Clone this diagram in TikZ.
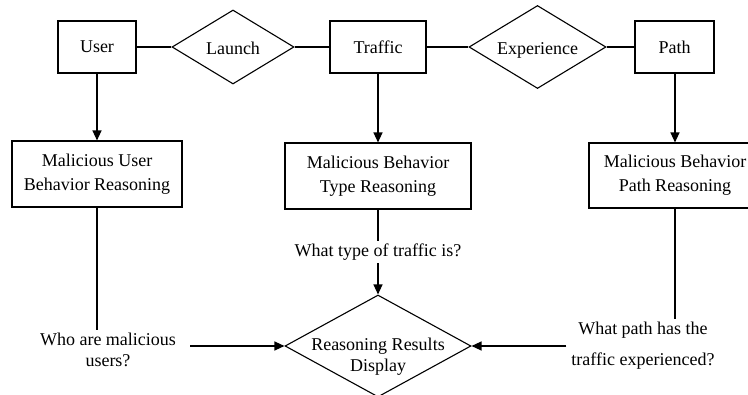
\documentclass[tikz,border=0pt]{standalone}
\usepackage{fontspec}
\setmainfont{Liberation Serif}
\newfontfamily\diagfont{Liberation Serif}
\usetikzlibrary{shapes.geometric,arrows.meta}
\begin{document}
\begin{tikzpicture}[x=1pt,y=-1pt,
  every node/.style={font=\diagfont\fontsize{18}{24}\selectfont},
  box/.style={draw, line width=1.1pt, rectangle, align=center, inner sep=0pt},
  dia/.style={draw, line width=1.1pt, diamond, inner sep=0pt},
  lab/.style={align=center, inner ysep=3pt},
  conn/.style={line width=1.3pt},
  arr/.style={line width=1.3pt, -{Triangle[length=10pt,width=9pt]}}]
\clip (0,0) rectangle (748,395);

% entities and relations along the top row
\node[box, minimum width=78pt, minimum height=52pt] (user) at (97,47) {User};
\node[dia, minimum width=122pt, minimum height=74pt] (launch) at (233,47) {};
\node[anchor=base] (launchT) at (233,54.5) {Launch};
\node[box, minimum width=96pt, minimum height=52pt] (traffic) at (378,47) {Traffic};
\node[dia, minimum width=137pt, minimum height=83pt] (exp) at (537.5,47) {};
\node[anchor=base] (expT) at (537.5,54.5) {Experience};
\node[box, minimum width=79pt, minimum height=52pt] (path) at (674.5,47) {Path};

% reasoning modules
\node[box, minimum width=170pt, minimum height=66pt] (mub) at (97,174) {Malicious User\\Behavior Reasoning};
\node[box, minimum width=186pt, minimum height=66pt] (mbt) at (378,176) {Malicious Behavior\\Type Reasoning};
\node[box, minimum width=172pt, minimum height=65pt] (mbp) at (675,175.5) {Malicious Behavior\\Path Reasoning};

% questions
\node[lab, inner xsep=14pt, font=\diagfont\fontsize{18}{21}\selectfont] (lq) at (108,350) {Who are malicious\\users?};
\node[lab] (mq) at (378,252) {What type of traffic is?};
\node[lab, inner xsep=5pt, font=\diagfont\fontsize{18}{31}\selectfont] (rq) at (643,345.5) {What path has the\\traffic experienced?};

% result display
\node[dia, minimum width=186pt, minimum height=102pt] (res) at (378,346) {};
\node[align=center, font=\diagfont\fontsize{18}{21}\selectfont] (resT) at (378,357) {Reasoning Results\\Display};

% connectors
\draw[conn] (user) -- (launch);
\draw[conn] (launch) -- (traffic);
\draw[conn] (traffic) -- (exp);
\draw[conn] (exp) -- (path);
\draw[arr] (user) -- (mub);
\draw[arr] (traffic) -- (mbt);
\draw[arr] (path.south -| mbp.north) -- (mbp.north);
\draw[conn] (mub.south) -- (mub.south |- lq.north);
\draw[conn] (mbt.south) -- (mq.north);
\draw[arr] (mq.south) -- (res.north);
\draw[conn] (mbp.south) -- (mbp.south |- rq.north);
\draw[arr] (lq.east |- res.west) -- (res.west);
\draw[arr] (rq.west |- res.east) -- (res.east);
\end{tikzpicture}
\end{document}
